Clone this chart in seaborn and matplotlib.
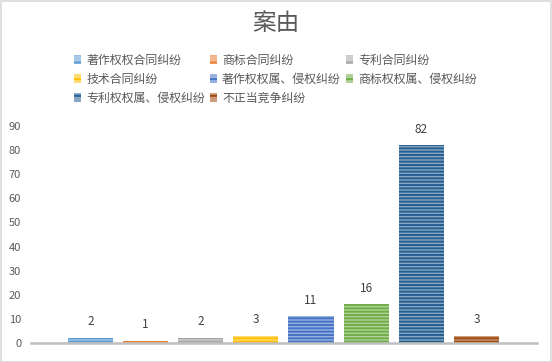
import matplotlib
matplotlib.use("Agg")
import matplotlib.pyplot as plt
import seaborn as sns
import pandas as pd
from matplotlib.patches import Patch, Rectangle
import matplotlib.colors as mcolors

categories = ["著作权权合同纠纷", "商标合同纠纷", "专利合同纠纷", "技术合同纠纷",
              "著作权权属、侵权纠纷", "商标权权属、侵权纠纷", "专利权权属、侵权纠纷", "不正当竞争纠纷"]
values = [2, 1, 2, 3, 11, 16, 82, 3]
colors = ["#5B9BD5", "#ED7D31", "#A5A5A5", "#FFC000", "#4472C4", "#70AD47", "#255E91", "#9E480E"]
yticks = [0, 10, 20, 30, 40, 50, 60, 70, 80, 90]
title = "案由"

sns.set_style("white")
plt.rcParams['font.family'] = ['Noto Sans CJK SC', 'DejaVu Sans']
plt.rcParams['hatch.linewidth'] = 1.4

def tint(c, f=0.45):
    r, g, b = mcolors.to_rgb(c)
    return (r + (1 - r) * f, g + (1 - g) * f, b + (1 - b) * f)

df = pd.DataFrame({"cat": categories, "val": values})
fig = plt.figure(figsize=(5.52, 3.62), dpi=100)
ax = fig.add_axes([0.056, 0.0525, 0.917, 0.5995])
sns.barplot(data=df, x="cat", y="val", hue="cat", palette=colors, order=categories,
            hue_order=categories, width=0.82, legend=False, ax=ax, dodge=False)

for cont, c in zip(ax.containers, colors):
    for p in cont:
        p.set_facecolor(tint(c))
        p.set_edgecolor(c)
        p.set_linewidth(0)
        p.set_hatch("-----")
    ax.bar_label(cont, labels=[f"{int(p.get_height())}" for p in cont], padding=7,
                 fontsize=8.5, color="#404040")

ax.set_xlim(-1.08, 8.1)
ax.set_ylim(0, 90)
ax.set_yticks(yticks)
ax.set_yticklabels([str(t) for t in yticks], fontsize=8, color="#595959")
ax.tick_params(axis='y', length=0, pad=7)
ax.set_xticks([])
ax.set_xlabel("")
ax.set_ylabel("")
for s in ["top", "right", "left"]:
    ax.spines[s].set_visible(False)
ax.spines["bottom"].set_color("#BFBFBF")
ax.spines["bottom"].set_linewidth(1.8)

fig.text(0.5, 0.934, title, ha="center", va="center", fontsize=17, color="#595959")

handles = [Patch(facecolor=tint(c), edgecolor=c, linewidth=0, hatch="--") for c in colors]
order = [0, 3, 6, 1, 4, 7, 2, 5]
fig.legend([handles[i] for i in order], [categories[i] for i in order], ncol=3,
           loc="upper left", bbox_to_anchor=(0.134, 0.852), frameon=False,
           fontsize=8.6, labelcolor="#595959", handlelength=0.62, handleheight=0.75,
           handletextpad=0.4, columnspacing=0.42, labelspacing=0.5, borderpad=0,
           borderaxespad=0)

fig.patches.append(Rectangle((0.001, 0.001), 0.997, 0.997, transform=fig.transFigure,
                             fill=False, edgecolor="#D9D9D9", linewidth=1.2))
fig.savefig("out.png", dpi=100)
